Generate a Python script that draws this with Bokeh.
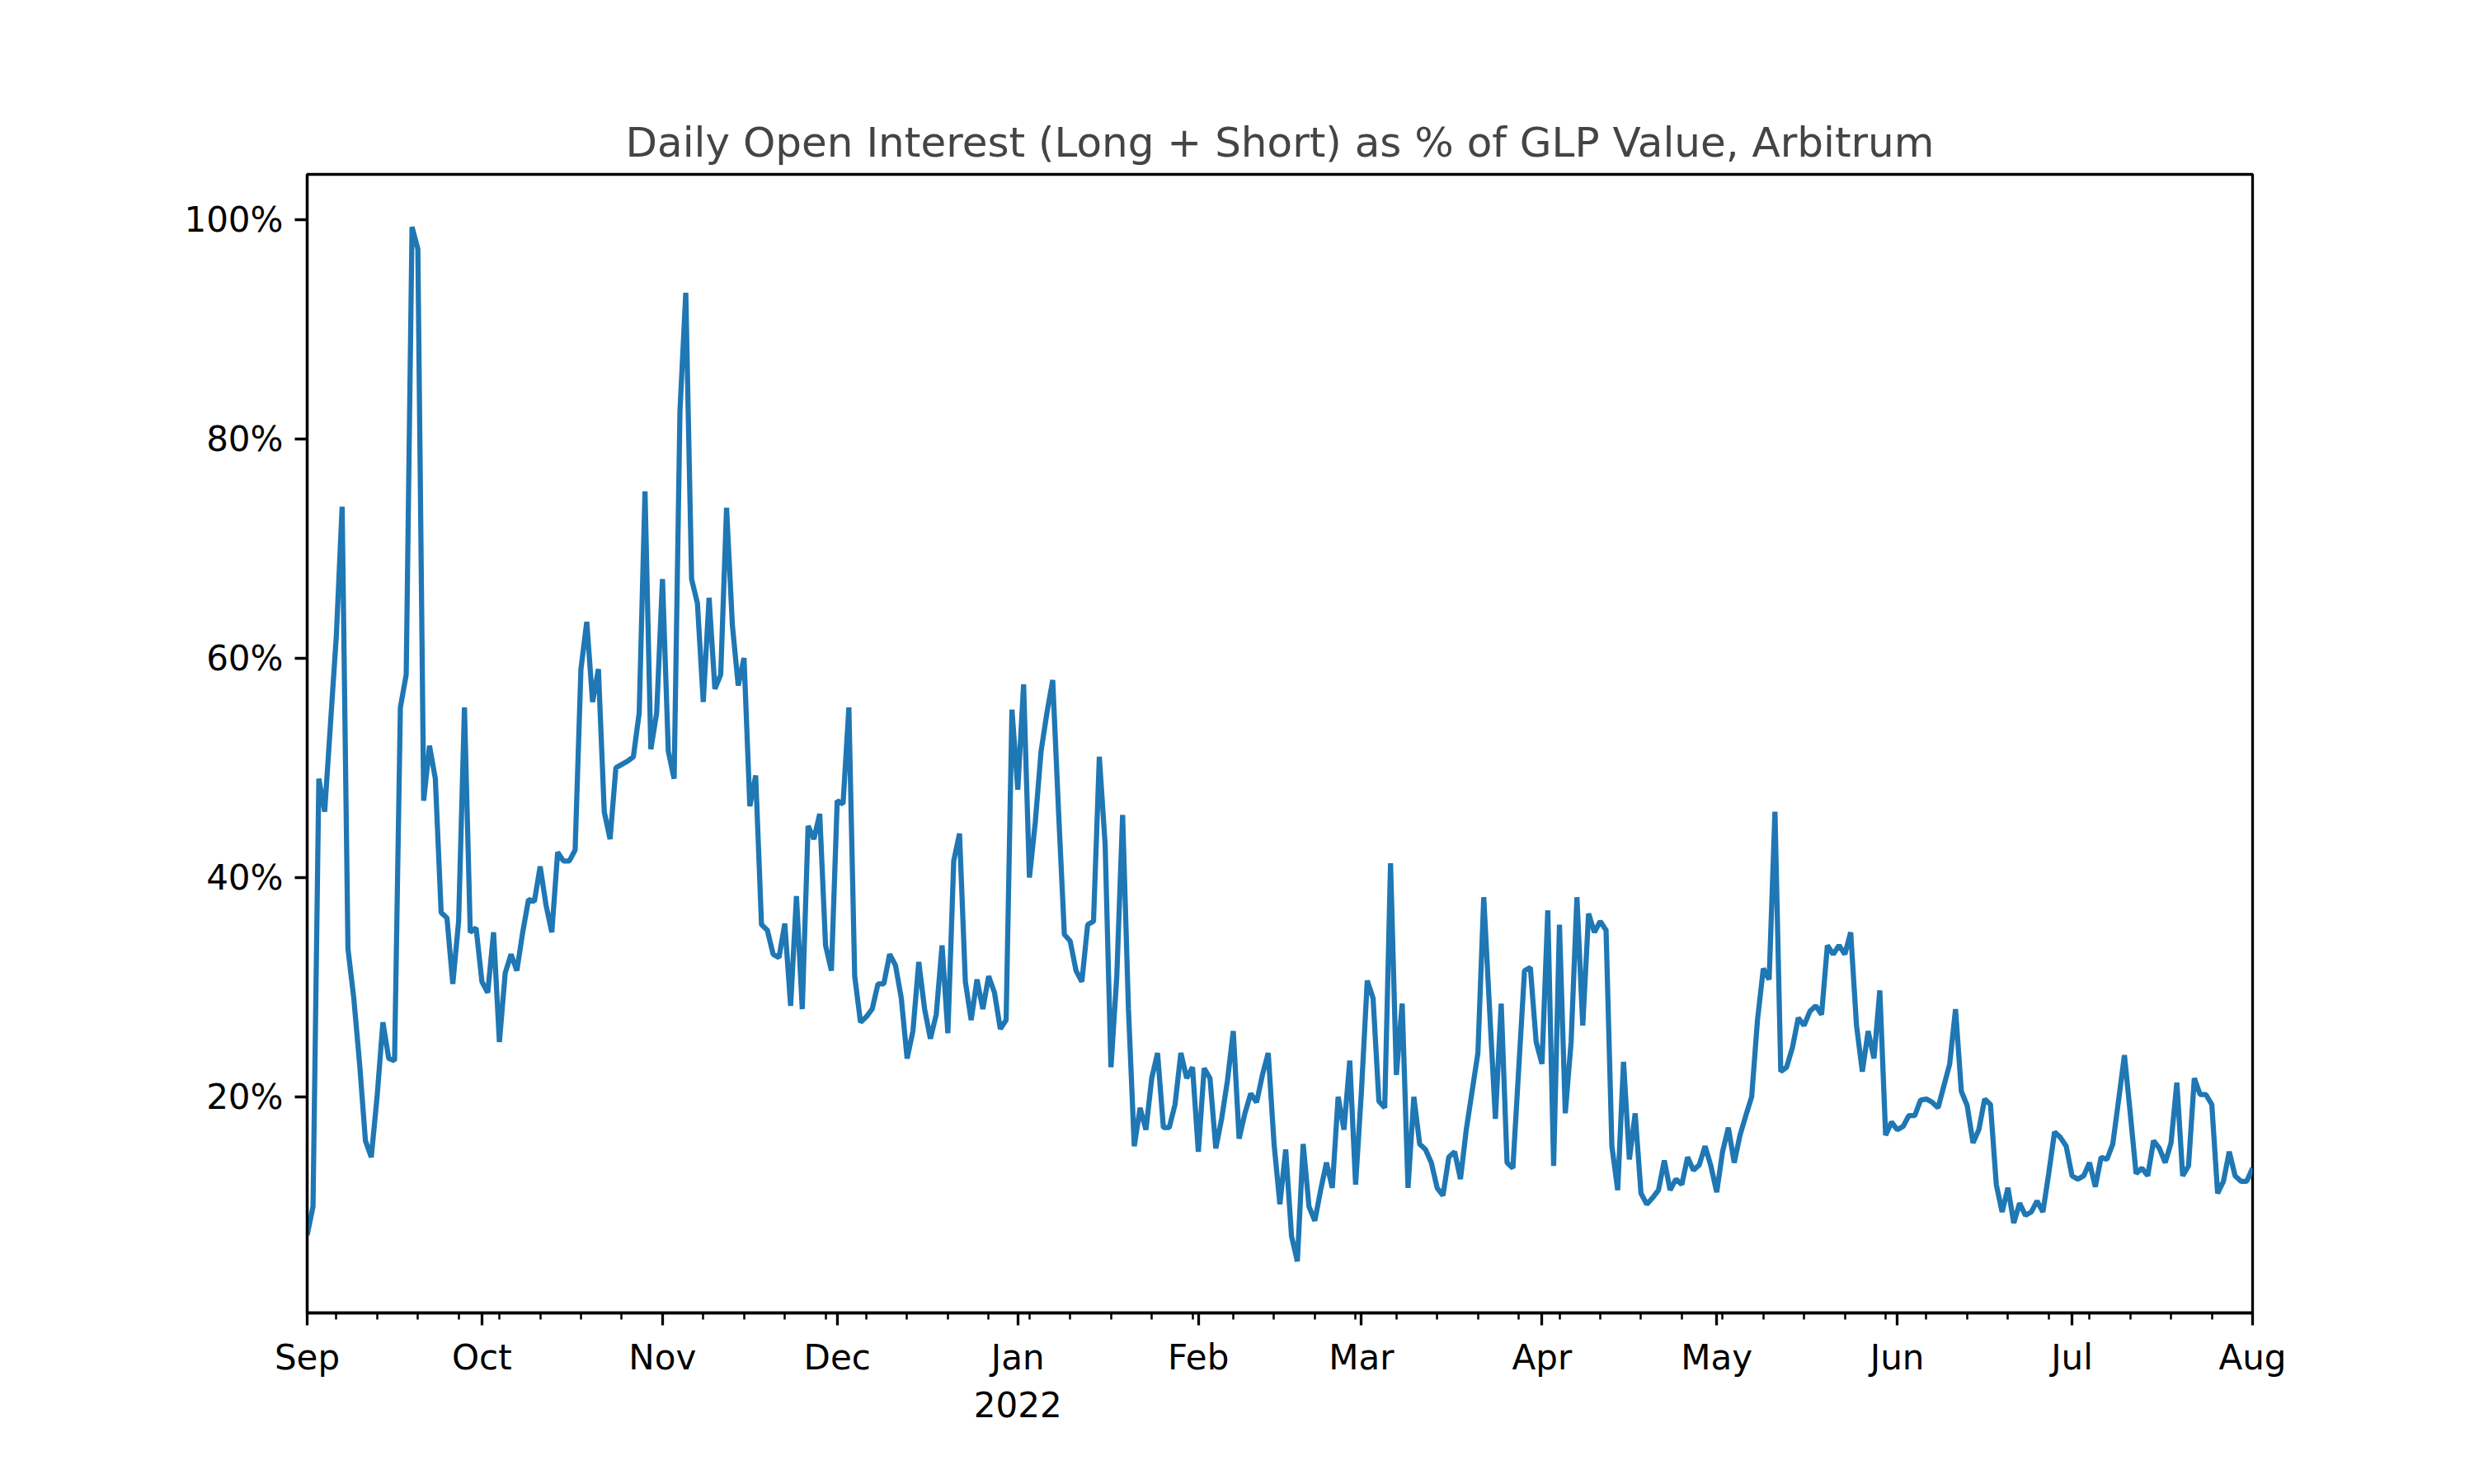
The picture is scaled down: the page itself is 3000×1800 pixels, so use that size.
import pandas as pd
from bokeh.plotting import figure
from bokeh.models import FixedTicker, Range1d, CustomJSTickFormatter
from bokeh.embed import file_html
from bokeh.resources import INLINE

start_date = "2021-09-01"
oi_pct = [
    7.4, 10, 49, 46, 54, 62, 73.8, 33.5, 29, 23, 16, 14.5, 20, 26.8, 23.5, 23.3,
    55.5, 58.5, 99.3, 97.3, 47, 52, 49, 36.8, 36.3, 30.3, 36, 55.5, 35, 35.4,
    30.5, 29.5, 35, 25, 31.3, 33, 31.5, 35, 38, 37.8, 41, 37.5, 35, 42.3, 41.5,
    41.5, 42.5, 59, 63.3, 56, 59, 46, 43.5, 50, 50.3, 50.6, 51, 55, 75.2, 51.7,
    55, 67.2, 51.5, 49, 82.5, 93.3, 67.2, 65, 56, 65.5, 57.2, 58.5, 73.7, 63,
    57.5, 60, 46.5, 49.3, 35.7, 35.2, 33, 32.7, 35.8, 28.3, 38.3, 28, 44.7, 43.5,
    45.8, 33.8, 31.5, 47, 46.7, 55.5, 31, 26.8, 27.3, 28, 30.3, 30.3, 33, 32, 29,
    23.5, 26, 32.3, 28, 25.3, 27.5, 33.8, 25.8, 41.5, 44, 30.5, 27, 30.7, 28, 31,
    29.5, 26.2, 27, 55.3, 48, 57.6, 40, 45, 51.5, 55, 58, 46, 34.8, 34.2, 31.5,
    30.5, 35.7, 36, 51, 43, 22.7, 31, 45.7, 28, 15.5, 19, 17, 21.7, 24, 17.2,
    17.2, 19.3, 24, 21.7, 22.7, 15, 22.6, 21.7, 15.3, 18, 21.5, 26, 16.2, 18.5,
    20.3, 19.5, 22, 24, 15.7, 10.2, 15.2, 7.3, 5, 15.7, 10, 8.7, 11.5, 14, 11.7,
    20, 17, 23.3, 12, 20.5, 30.6, 29, 19.6, 19, 41.3, 22, 28.5, 11.7, 20, 15.7,
    15.2, 14, 11.7, 11, 14.5, 15, 12.5, 17, 20.5, 24, 38.2, 28, 18, 28.5, 14,
    13.5, 22.5, 31.5, 31.8, 25, 23, 37, 13.7, 35.7, 18.5, 25, 38.2, 26.5, 36.7,
    35, 36, 35.2, 15.5, 11.5, 23.2, 14.3, 18.5, 11.2, 10.2, 10.8, 11.5, 14.2,
    11.5, 12.5, 12, 14.5, 13.3, 13.8, 15.5, 13.7, 11.3, 15, 17.2, 14, 16.5, 18.3,
    20, 27, 31.7, 30.7, 46, 22.3, 22.7, 24.5, 27.2, 26.5, 27.8, 28.3, 27.5, 33.8,
    33, 33.8, 33, 35, 26.5, 22.3, 26, 23.5, 29.7, 16.5, 17.7, 17, 17.3, 18.3,
    18.3, 19.7, 19.8, 19.5, 19, 21, 23, 28, 20.5, 19.2, 15.8, 17, 19.8, 19.3, 12,
    9.5, 11.7, 8.5, 10.3, 9.2, 9.5, 10.5, 9.5, 13, 16.8, 16.3, 15.5, 12.8, 12.5,
    12.8, 14, 11.8, 14.5, 14.3, 15.7, 19.7, 23.8, 18.5, 13, 13.5, 12.8, 16, 15.3,
    14, 15.8, 21.3, 12.8, 13.7, 21.7, 20.2, 20.2, 19.3, 11.2, 12.3, 15, 12.8,
    12.3, 12.3, 13.5,
]
month_ticks = ["2021-09-01", "2021-10-01", "2021-11-01", "2021-12-01", "2022-01-01",
               "2022-02-01", "2022-03-01", "2022-04-01", "2022-05-01", "2022-06-01",
               "2022-07-01", "2022-08-01"]
month_labels = ["Sep", "Oct", "Nov", "Dec", "Jan\n2022", "Feb", "Mar", "Apr", "May",
                "Jun", "Jul", "Aug"]
y_ticks = [20, 40, 60, 80, 100]

dates = pd.date_range(start_date, periods=len(oi_pct), freq="D")


def ms(d):
    return pd.Timestamp(d).value / 1e6


major = [ms(d) for d in month_ticks]
minor = [ms(d) for d in pd.date_range("2021-09-06", "2022-08-01", freq="7D")]

p = figure(width=2984, height=1784, x_axis_type="datetime",
           output_backend="svg", toolbar_location=None,
           title="Daily Open Interest (Long + Short) as % of GLP Value, Arbitrum",
           x_range=Range1d(major[0], major[-1]), y_range=Range1d(0.3, 104.1),
           min_border_left=372, min_border_right=253, min_border_top=211,
           min_border_bottom=192)
p.line(dates, oi_pct, line_width=6.25, color="#1f77b4")

p.title.align = "center"
p.title.text_font = "DejaVu Sans"
p.title.text_font_size = "50px"
p.title.text_font_style = "normal"
p.title.offset = 0
p.title.standoff = 20
p.grid.visible = False
p.outline_line_color = "black"
p.outline_line_width = 3.3
p.outline_line_alpha = 1

p.xaxis.ticker = FixedTicker(ticks=major, minor_ticks=minor)
p.xaxis.major_label_overrides = {m: l for m, l in zip(major, month_labels)}
p.yaxis.ticker = FixedTicker(ticks=y_ticks)
p.yaxis.formatter = CustomJSTickFormatter(code="return tick + '%'")
for ax in (p.xaxis[0], p.yaxis[0]):
    ax.axis_line_width = 3.3
    ax.major_tick_line_width = 3.3
    ax.minor_tick_line_width = 2.5
    ax.major_tick_out = 15
    ax.major_tick_in = 0
    ax.minor_tick_out = 8
    ax.minor_tick_in = 0
    ax.major_label_text_font = "DejaVu Sans"
    ax.major_label_text_font_size = "42px"
    ax.major_label_text_color = "black"
    ax.major_label_standoff = 14
p.yaxis.minor_tick_line_color = None

open("out.html", "w").write(file_html(p, INLINE))
